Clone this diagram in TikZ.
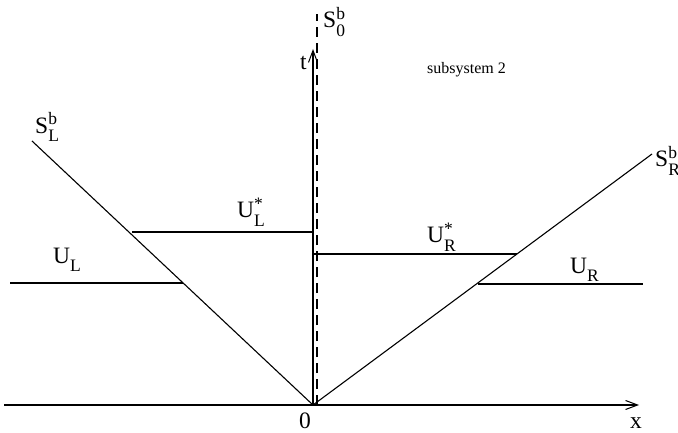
\documentclass[tikz,border=0pt]{standalone}
\usepackage{fontspec}
\setmainfont{Liberation Serif}
\usetikzlibrary{arrows.meta}
\newcommand\scrfont{\fontsize{17.5}{17.5}\selectfont}
\newcommand\sbsp[3]{#1\rlap{\raisebox{8.5pt}{\scrfont #3}}\raisebox{-8.5pt}{\scrfont #2}}
\begin{document}
\begin{tikzpicture}[x=1pt,y=-1pt,
  line/.style={line width=1.1pt},
  lbl/.style={inner sep=0pt,anchor=base west,font=\fontsize{23.5}{27}\selectfont},
  small/.style={inner sep=0pt,anchor=base west,font=\fontsize{16}{19}\selectfont},
  axisarrow/.style={-{Straight Barb[length=12pt,width=9pt,line width=1pt]}}
]
\useasboundingbox (0,0) rectangle (678,433);
% points
\coordinate (O) at (313,405);
\coordinate (xs) at (4,405);
\coordinate (xe) at (639,405);
\coordinate (te) at (313,49);
\coordinate (ds) at (317,405);
\coordinate (de) at (317,14);
\coordinate (SL) at (32,141);
\coordinate (SR) at (652,154);
\coordinate (LsA) at (132,232);
\coordinate (LsB) at (313,232);
\coordinate (LA) at (10,283);
\coordinate (LB) at (183,283);
\coordinate (RsA) at (313,254);
\coordinate (RsB) at (517,254);
\coordinate (RA) at (478,284);
\coordinate (RB) at (643,284);
% axes
\draw[line,axisarrow] (xs) -- (xe);
\draw[line,axisarrow] (O) -- (te);
\draw[line,dashed,dash pattern=on 10pt off 6pt] (ds) -- (de);
% waves
\draw[line] (O) -- (SL);
\draw[line] (O) -- (SR);
\draw[line] (LsA) -- (LsB);
\draw[line] (LA) -- (LB);
\draw[line] (RsA) -- (RsB);
\draw[line] (RA) -- (RB);
% labels
\node[lbl] (lt) at (300,70) {t};
\node[lbl] (lx) at (630,428) {x};
\node[lbl,anchor=base] (l0) at (305,428) {0};
\node[lbl] (lS0) at (323,28) {\sbsp{S}{0}{b}};
\node[lbl] (lSL) at (35,133.5) {\sbsp{S}{L}{b}};
\node[lbl] (lSR) at (655,167) {\sbsp{S}{R}{b}};
\node[lbl] (lULs) at (237,218) {\sbsp{U}{L}{*}};
\node[lbl] (lUL) at (53,263) {\sbsp{U}{L}{}};
\node[lbl] (lURs) at (427,243) {\sbsp{U}{R}{*}};
\node[lbl] (lUR) at (570,273) {\sbsp{U}{R}{}};
\node[small] (sub) at (427,74) {subsystem 2};
\end{tikzpicture}
\end{document}
